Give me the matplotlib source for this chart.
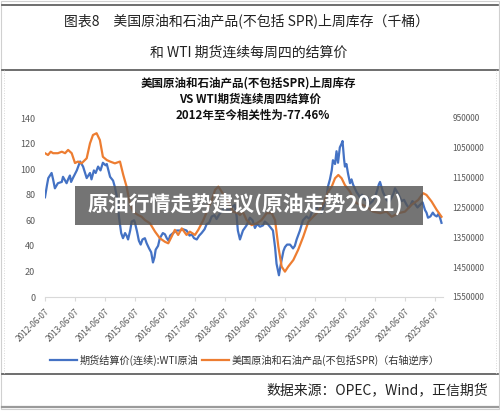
import numpy as np
import matplotlib
matplotlib.use("Agg")
import matplotlib.pyplot as plt
from matplotlib.lines import Line2D
from matplotlib.patches import Rectangle

plt.rcParams['font.family'] = ['Noto Sans CJK SC', 'DejaVu Sans']

# --- datos (tiempo en anos decimales) ---
wti_t = [2012.43, 2012.50, 2012.54, 2012.65, 2012.70, 2012.76, 2012.86, 2012.99,
         2013.03, 2013.15, 2013.20, 2013.26, 2013.30, 2013.36, 2013.49, 2013.60,
         2013.70, 2013.82, 2013.93, 2013.98, 2014.06, 2014.12, 2014.20, 2014.28,
         2014.36, 2014.45, 2014.49, 2014.60, 2014.70, 2014.76, 2014.83, 2014.90,
         2014.97, 2015.03, 2015.10, 2015.15, 2015.20, 2015.27, 2015.32, 2015.40,
         2015.43, 2015.50, 2015.56, 2015.62, 2015.68, 2015.76, 2015.82, 2015.90,
         2015.97, 2016.03, 2016.08, 2016.12, 2016.20, 2016.26, 2016.36, 2016.43,
         2016.49, 2016.55, 2016.60, 2016.70, 2016.82, 2016.93, 2017.03, 2017.15,
         2017.25, 2017.32, 2017.40, 2017.49, 2017.57, 2017.65, 2017.75, 2017.82,
         2017.90, 2017.99, 2018.08, 2018.15, 2018.25, 2018.32, 2018.43, 2018.50,
         2018.60, 2018.70, 2018.76, 2018.82, 2018.86, 2018.93, 2019.03, 2019.15,
         2019.26, 2019.35, 2019.43, 2019.50, 2019.60, 2019.70, 2019.76, 2019.86,
         2019.93, 2020.03, 2020.10, 2020.15, 2020.23, 2020.28, 2020.32, 2020.38,
         2020.43, 2020.50, 2020.60, 2020.70, 2020.76, 2020.82, 2020.93, 2021.03,
         2021.15, 2021.25, 2021.32, 2021.40, 2021.49, 2021.57, 2021.65, 2021.72,
         2021.76, 2021.82, 2021.86, 2021.93, 2021.99, 2022.03, 2022.10, 2022.15,
         2022.20, 2022.26, 2022.32, 2022.35, 2022.40, 2022.43, 2022.48, 2022.53,
         2022.60, 2022.65, 2022.70, 2022.76, 2022.82, 2022.88, 2022.93, 2023.00,
         2023.10, 2023.18, 2023.26, 2023.35, 2023.43, 2023.50, 2023.56, 2023.60,
         2023.65, 2023.70, 2023.76, 2023.82, 2023.90, 2023.99, 2024.05, 2024.10,
         2024.15, 2024.20, 2024.26, 2024.32, 2024.40, 2024.49, 2024.55, 2024.60,
         2024.68, 2024.76, 2024.85, 2024.93, 2025.02, 2025.10, 2025.15, 2025.20,
         2025.28, 2025.36, 2025.42, 2025.49, 2025.55, 2025.60, 2025.65]
wti = [78, 88, 93, 97, 92, 85, 89, 90,
       94, 89, 92, 95, 90, 93, 99, 106,
       102, 93, 97, 92, 99, 97, 102, 99,
       105, 103, 104, 94, 91, 86, 78, 62,
       50, 46, 50, 48, 45, 52, 59, 60,
       58, 51, 44, 41, 45, 46, 42, 38,
       35, 27, 31, 37, 40, 46, 50, 49,
       46, 44, 48, 50, 52, 52, 53, 52,
       48, 49, 46, 45, 48, 50, 53, 57,
       58, 63, 64, 61, 65, 67, 70, 68,
       68, 71, 72, 63, 52, 45, 52, 56,
       62, 60, 54, 57, 55, 56, 59, 57,
       55, 52, 39, 26, 17, 24, 29, 36,
       39, 41, 41, 38, 40, 45, 52, 60,
       63, 61, 66, 68, 70, 67, 66, 71,
       75, 78, 86, 92, 99, 107, 104, 114,
       105, 117, 120, 122, 108, 102, 104, 97,
       89, 92, 88, 85, 82, 80, 78, 80,
       76, 78, 73, 75, 78, 83, 88, 90,
       86, 82, 79, 76, 74, 78, 81, 85,
       83, 81, 78, 75, 76, 72, 70, 71,
       75, 73, 70, 72, 74, 68, 66, 62,
       63, 66, 64, 63, 65, 62, 58]

stock_t = [2012.43, 2012.53, 2012.62, 2012.70, 2012.86, 2012.99, 2013.10, 2013.20,
           2013.32, 2013.43, 2013.53, 2013.65, 2013.82, 2013.93, 2014.03, 2014.15,
           2014.26, 2014.36, 2014.49, 2014.60, 2014.76, 2014.93, 2015.04, 2015.15,
           2015.26, 2015.37, 2015.53, 2015.65, 2015.76, 2015.93, 2016.10, 2016.26,
           2016.43, 2016.54, 2016.65, 2016.76, 2016.87, 2016.99, 2017.15, 2017.26,
           2017.43, 2017.54, 2017.71, 2017.87, 2017.99, 2018.10, 2018.21, 2018.32,
           2018.53, 2018.70, 2018.86, 2018.93, 2019.03, 2019.15, 2019.32, 2019.49,
           2019.65, 2019.82, 2019.99, 2020.10, 2020.21, 2020.32, 2020.43, 2020.54,
           2020.71, 2020.87, 2021.04, 2021.21, 2021.37, 2021.54, 2021.71, 2021.87,
           2021.99, 2022.10, 2022.21, 2022.32, 2022.43, 2022.60, 2022.70, 2022.82,
           2022.99, 2023.15, 2023.37, 2023.60, 2023.82, 2023.99, 2024.21, 2024.43,
           2024.65, 2024.87, 2025.04, 2025.15, 2025.32, 2025.49, 2025.65]
stock = [1068, 1074, 1063, 1068, 1068, 1063, 1068, 1057,
         1068, 1101, 1096, 1102, 1085, 1035, 1007, 1001,
         1024, 1080, 1091, 1096, 1102, 1096, 1141, 1180,
         1236, 1264, 1275, 1281, 1292, 1303, 1331, 1353,
         1365, 1370, 1348, 1325, 1342, 1320, 1342, 1331,
         1342, 1325, 1292, 1253, 1225, 1191, 1180, 1197,
         1230, 1264, 1269, 1275, 1265, 1292, 1309, 1303,
         1292, 1269, 1269, 1292, 1381, 1448, 1465, 1448,
         1426, 1392, 1348, 1298, 1281, 1264, 1236, 1197,
         1180, 1152, 1141, 1152, 1175, 1197, 1218, 1236,
         1240, 1247, 1264, 1269, 1264, 1281, 1269, 1264,
         1241, 1225, 1202, 1208, 1230, 1258, 1281]
stock = [v * 1000 for v in stock]

tick_labels = [f"{y}-06-07" for y in range(2012, 2026)]
tick_pos = [y + 0.43 for y in range(2012, 2026)]

BLUE = '#4472C4'
ORANGE = '#ED7D31'
GRAY = '#595959'

fig = plt.figure(figsize=(5, 4.11), dpi=100)

# --- marco y cabecera ---
W, H = 500, 411
def fx(x): return x / W
def fy(y): return 1 - y / H

fig.add_artist(Rectangle((fx(1), fy(409)), fx(498), 408 / H, fill=False,
                         ec='#d0d0d0', lw=0.8))
for yy, c, lw in [(5, '#555555', 1.2), (70, '#555555', 1.2), (374, '#555555', 1.2),
                  (407, '#9a9a9a', 1.6)]:
    fig.add_artist(Line2D([fx(2), fx(498)], [fy(yy), fy(yy)], color=c, lw=lw))
for xx in (4, 496):
    fig.add_artist(Line2D([fx(xx), fx(xx)], [fy(70), fy(374)], color='#cccccc',
                          lw=0.6, ls=(0, (1, 2))))

fig.text(fx(247), fy(21), "图表8　美国原油和石油产品(不包括 SPR)上周库存（千桶）",
         ha='center', va='center', fontsize=10, color='#222222')
fig.text(fx(249), fy(53), "和 WTI 期货连续每周四的结算价",
         ha='center', va='center', fontsize=10, color='#222222')

fig.text(fx(248), fy(83), "美国原油和石油产品(不包括SPR)上周库存",
         ha='center', va='center', fontsize=8.3, fontweight='bold', color='#111111')
fig.text(fx(250), fy(99), "VS WTI期货连续周四结算价",
         ha='center', va='center', fontsize=8.3, fontweight='bold', color='#111111')
fig.text(fx(253), fy(115), "2012年至今相关性为-77.46%",
         ha='center', va='center', fontsize=8.3, fontweight='bold', color='#111111')

fig.text(fx(488), fy(390), "数据来源：OPEC，Wind，正信期货",
         ha='right', va='center', fontsize=10, color='#222222')

# --- ejes ---
ax = fig.add_axes([fx(45), fy(297), (443 - 45) / W, (297 - 118) / H])
ax.plot(wti_t, wti, color=BLUE, lw=1.6, label='期货结算价(连续):WTI原油')
ax.set_xlim(2012.43, 2025.70)
ax.set_ylim(0, 140)
ax.set_yticks(range(0, 141, 20))
ax.set_xticks(tick_pos)
ax.set_xticklabels(tick_labels, rotation=45, ha='right', rotation_mode='anchor')
ax.tick_params(axis='x', length=3, color='#d9d9d9', labelsize=6, labelcolor=GRAY, pad=4)
ax.tick_params(axis='y', length=0, labelsize=6.5, labelcolor=GRAY, pad=7)
for s in ('left', 'right', 'top'):
    ax.spines[s].set_visible(False)
ax.spines['bottom'].set_color('#d9d9d9')

ax2 = ax.twinx()
ax2.plot(stock_t, stock, color=ORANGE, lw=1.6, label='美国原油和石油产品(不包括SPR)（右轴逆序）')
ax2.set_ylim(1550000, 950000)
ax2.set_yticks(range(950000, 1550001, 100000))
ax2.ticklabel_format(axis='y', style='plain', useOffset=False)
ax2.tick_params(axis='y', length=0, labelsize=6, labelcolor=GRAY, pad=7)
for s in ax2.spines.values():
    s.set_visible(False)

h1, l1 = ax.get_legend_handles_labels()
h2, l2 = ax2.get_legend_handles_labels()
fig.legend(h1 + h2, l1 + l2, loc='center', bbox_to_anchor=(fx(245), fy(360)),
           ncol=2, frameon=False, fontsize=7.3, handlelength=2.6,
           handletextpad=0.3, columnspacing=0.4, labelcolor='#333333')

# --- banda de marca de agua ---
fig.add_artist(Rectangle((fx(75), fy(225)), (423 - 75) / W, (225 - 186) / H,
                         fc='#555555', alpha=0.82, ec='none', zorder=10))
fig.text(fx(245), fy(204), "原油行情走势建议(原油走势2021)", ha='center', va='center',
         fontsize=15, fontweight='bold', color='white', zorder=11)

fig.savefig("out.png", dpi=100)
